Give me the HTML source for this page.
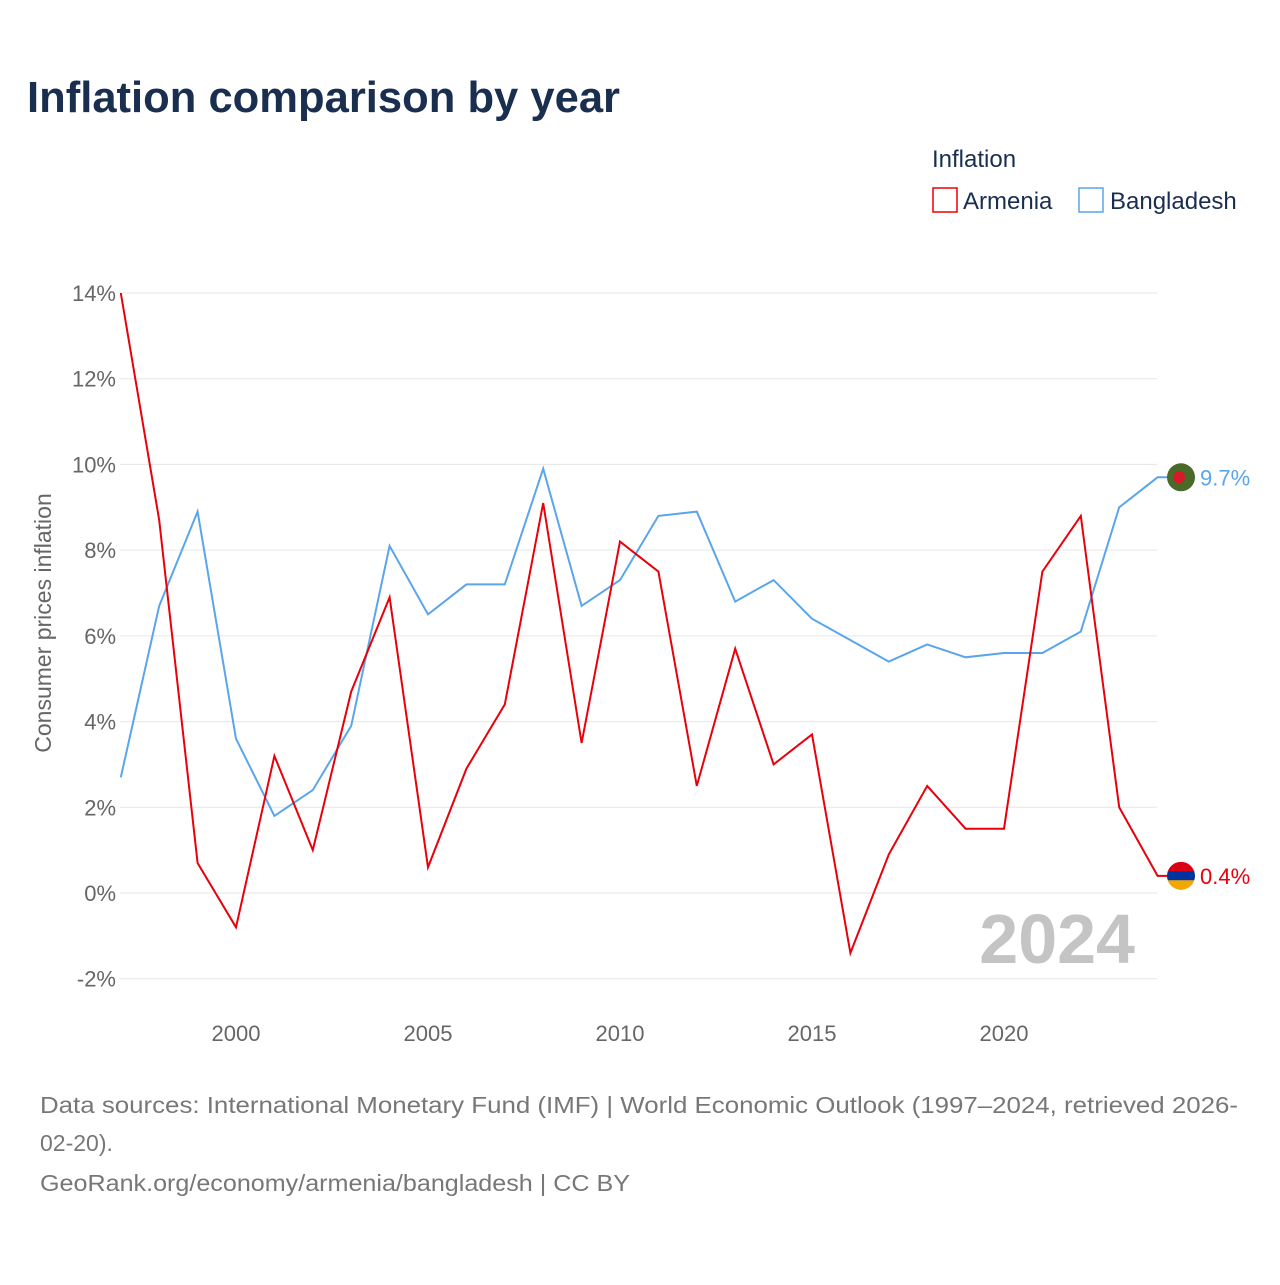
<!DOCTYPE html>
<html><head><meta charset="utf-8">
<style>
body{margin:0;background:#fff;font-family:"Liberation Sans",sans-serif;}
svg text{font-family:"Liberation Sans",sans-serif;}
</style></head>
<body>
<svg id="chart" width="1280" height="1280" viewBox="0 0 1280 1280">
<text x="27" y="112" font-size="44" font-weight="bold" fill="#1a2e4f" textLength="593" lengthAdjust="spacingAndGlyphs">Inflation comparison by year</text>
<text x="932" y="167" font-size="24" fill="#1a2e4f">Inflation</text>
<g><rect x="933" y="188" width="24" height="24" fill="none" stroke="#e00" stroke-width="1.5"/><text x="963" y="209" font-size="24" fill="#1a2e4f">Armenia</text></g>
<g><rect x="1079" y="188" width="24" height="24" fill="none" stroke="#5aa5eb" stroke-width="1.5"/><text x="1110" y="209" font-size="24" fill="#1a2e4f">Bangladesh</text></g>
<g id="grid"></g>
<g id="yticks"></g>
<g id="xticks"></g>
<text transform="translate(51,623) rotate(-90)" text-anchor="middle" font-size="23" fill="#666">Consumer prices inflation</text>
<text x="1135" y="963" text-anchor="end" font-size="70" font-weight="bold" fill="#c4c4c4">2024</text>
<g id="series"></g>
<text x="40" y="1113" font-size="23" fill="#777" textLength="1198" lengthAdjust="spacingAndGlyphs">Data sources: International Monetary Fund (IMF) | World Economic Outlook (1997–2024, retrieved 2026-</text>
<text x="40" y="1151" font-size="23" fill="#777">02-20).</text>
<text x="40" y="1191" font-size="23" fill="#777" textLength="590" lengthAdjust="spacingAndGlyphs">GeoRank.org/economy/armenia/bangladesh | CC BY</text>
</svg>
<script>
const years=[1997,1998,1999,2000,2001,2002,2003,2004,2005,2006,2007,2008,2009,2010,2011,2012,2013,2014,2015,2016,2017,2018,2019,2020,2021,2022,2023,2024];
const armenia=[14.0,8.7,0.7,-0.8,3.2,1.0,4.7,6.9,0.6,2.9,4.4,9.1,3.5,8.2,7.5,2.5,5.7,3.0,3.7,-1.4,0.9,2.5,1.5,1.5,7.5,8.8,2.0,0.4];
const bangladesh=[2.7,6.7,8.9,3.6,1.8,2.4,3.9,8.1,6.5,7.2,7.2,9.9,6.7,7.3,8.8,8.9,6.8,7.3,6.4,5.9,5.4,5.8,5.5,5.6,5.6,6.1,9.0,9.7];
const yTicks=[-2,0,2,4,6,8,10,12,14];
const xTicks=[2000,2005,2010,2015,2020];
const NS="http://www.w3.org/2000/svg";
const x=v=>120.8+(v-1997)*38.4;
const y=v=>893-v*42.857;
function mk(tag,attrs,parent){const e=document.createElementNS(NS,tag);for(const k in attrs)e.setAttribute(k,attrs[k]);parent.appendChild(e);return e;}
const grid=document.getElementById('grid'),yt=document.getElementById('yticks'),xt=document.getElementById('xticks'),ser=document.getElementById('series');
yTicks.forEach(t=>{
 const l=mk('line',{x1:120,x2:1157,y1:y(t),y2:y(t),stroke:'#e6e6e6','stroke-width':1},grid);
 
 
 const tx=mk('text',{x:116,y:y(t)+8,'text-anchor':'end','font-size':22,fill:'#666'},yt);
 tx.textContent=t+'%';
 
 
});
xTicks.forEach(t=>{
 const tx=mk('text',{x:x(t),y:1041,'text-anchor':'middle','font-size':22,fill:'#666'},xt);
 tx.textContent=t;
 
 
});
function draw(vals,color,name){
 let d=vals.map((v,i)=>(i?'L':'M')+x(years[i]).toFixed(1)+','+y(v).toFixed(1)).join('');
 const last=vals[vals.length-1];
 d+='L'+(x(years[years.length-1])+12)+','+y(last).toFixed(1);
 const p=mk('path',{d:d,fill:'none',stroke:color,'stroke-width':2},ser);
 
 
 const ly=y(last);
 const g=mk('g',{},ser);
 
 
 if(name==='armenia'){
  mk('clipPath',{id:'cpA'},g);
  const cp=g.lastChild;mk('circle',{cx:1181,cy:ly,r:14},cp);
  mk('rect',{x:1167,y:ly-14,width:28,height:10,fill:'#d90012','clip-path':'url(#cpA)'},g);
  mk('rect',{x:1167,y:ly-4.5,width:28,height:9,fill:'#0033a0','clip-path':'url(#cpA)'},g);
  mk('rect',{x:1167,y:ly+4.5,width:28,height:10,fill:'#f2a800','clip-path':'url(#cpA)'},g);
 }else{
  mk('circle',{cx:1181,cy:ly,r:14,fill:'#4a6a2a'},g);
  mk('circle',{cx:1179,cy:ly,r:6,fill:'#d71a28'},g);
 }
 const t=mk('text',{x:1200,y:ly+8,'font-size':22,fill:color},ser);
 t.textContent=last.toFixed(1)+'%';
 
 
}
draw(bangladesh,'#5aa5eb','bangladesh');
draw(armenia,'#e8000b','armenia');
</script>
</body></html>
